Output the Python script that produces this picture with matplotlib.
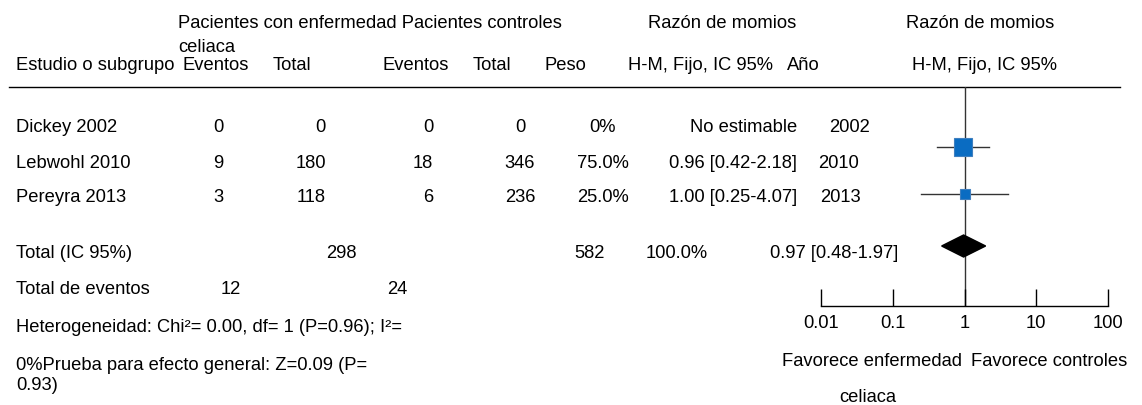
import numpy as np
import matplotlib.pyplot as plt
from matplotlib.ticker import NullLocator, FixedLocator, FixedFormatter

plt.rcParams['font.family'] = ['Liberation Sans', 'DejaVu Sans']

# datos de los estudios
studies = ['Dickey 2002', 'Lebwohl 2010', 'Pereyra 2013']
ev_cel = [0, 9, 3]
tot_cel = [0, 180, 118]
ev_ctl = [0, 18, 6]
tot_ctl = [0, 346, 236]
peso = [0.0, 75.0, 25.0]
or_est = [np.nan, 0.96, 1.00]
ci_lo = [np.nan, 0.42, 0.25]
ci_hi = [np.nan, 2.18, 4.07]
years = [2002, 2010, 2013]

# totales
tot_n_cel = 298
tot_n_ctl = 582
tot_ev_cel = 12
tot_ev_ctl = 24
or_total = 0.97
or_total_lo = 0.48
or_total_hi = 1.97

ticks = [0.01, 0.1, 1, 10, 100]
tick_labels = ['0.01', '0.1', '1', '10', '100']

W, H = 1142, 405
fs = 13.2

fig = plt.figure(figsize=(W / 100, H / 100), dpi=100)
ax = fig.add_axes([0, 0, 1, 1])
ax.set_xlim(0, W)
ax.set_ylim(H, 0)
ax.axis('off')


def txt(x, y, s, ha='left'):
    ax.text(x, y, s, ha=ha, va='center', fontsize=fs, color='black')


# cabecera
txt(178, 23, 'Pacientes con enfermedad Pacientes controles')
txt(178, 47, 'celiaca')
txt(722, 23, 'Razón de momios', ha='center')
txt(980, 23, 'Razón de momios', ha='center')
hy = 65
txt(16, hy, 'Estudio o subgrupo')
txt(182, hy, 'Eventos')
txt(273, hy, 'Total')
txt(382, hy, 'Eventos')
txt(473, hy, 'Total')
txt(544, hy, 'Peso')
txt(628, hy, 'H-M, Fijo, IC 95%')
txt(787, hy, 'Año')
txt(984, hy, 'H-M, Fijo, IC 95%', ha='center')
ax.plot([9, 1120], [87, 87], color='black', lw=1)

# filas de estudios
rows = [128, 163, 198]
year_x = [829, 818, 820]
for i, y in enumerate(rows):
    txt(16, y, studies[i])
    txt(218, y, str(ev_cel[i]), ha='center')
    txt(326, y, str(tot_cel[i]), ha='right')
    txt(433, y, str(ev_ctl[i]), ha='right')
    txt(520, y, str(tot_ctl[i]), ha='center')
    p = '0%' if peso[i] == 0 else f'{peso[i]:.1f}%'
    txt(603, y, p, ha='center')
    if np.isnan(or_est[i]):
        s = 'No estimable'
    else:
        s = f'{or_est[i]:.2f} [{ci_lo[i]:.2f}-{ci_hi[i]:.2f}]'
    txt(797, y, s, ha='right')
    txt(year_x[i], y, str(years[i]))

# total
ty = 253
txt(16, ty, 'Total (IC 95%)')
txt(341, ty, str(tot_n_cel), ha='center')
txt(590, ty, str(tot_n_ctl), ha='center')
txt(677, ty, f'{sum(peso):.1f}%', ha='center')
txt(770, ty, f'{or_total:.2f} [{or_total_lo:.2f}-{or_total_hi:.2f}]')

txt(16, 290, 'Total de eventos')
txt(231, 290, str(tot_ev_cel), ha='center')
txt(397, 290, str(tot_ev_ctl), ha='center')
txt(16, 328, 'Heterogeneidad: Chi²= 0.00, df= 1 (P=0.96); I²=')
txt(16, 365, '0%Prueba para efecto general: Z=0.09 (P=')
txt(16, 385, '0.93)')

txt(962, 362, 'Favorece enfermedad', ha='right')
txt(868, 398, 'celiaca', ha='center')
txt(971, 362, 'Favorece controles')

# grafico de bosque
x0, x1 = 821, 1108
ytop, ybot = 87, 306
fx = fig.add_axes([x0 / W, (H - ybot) / H, (x1 - x0) / W, (ybot - ytop) / H])
fx.set_xscale('log')
fx.set_xlim(ticks[0], ticks[-1])
fx.set_ylim(ybot, ytop)
fx.patch.set_alpha(0)
for side in ['top', 'left', 'right']:
    fx.spines[side].set_visible(False)
fx.spines['bottom'].set_linewidth(1)
fx.yaxis.set_major_locator(NullLocator())
fx.xaxis.set_major_locator(FixedLocator(ticks))
fx.xaxis.set_major_formatter(FixedFormatter(tick_labels))
fx.xaxis.set_minor_locator(NullLocator())
fx.tick_params(axis='x', direction='in', length=12.2, width=1, pad=6.5,
               labelsize=fs)

fx.axvline(1, color='#333333', lw=1, zorder=1)

mark_rows = [None, 147, 194]
for i in range(len(studies)):
    if np.isnan(or_est[i]):
        continue
    y = mark_rows[i]
    fx.plot([ci_lo[i], ci_hi[i]], [y, y], color='#333333', lw=1, zorder=2)
    fx.plot(or_est[i], y, marker='s', ms=1.5 * np.sqrt(peso[i]),
            color='#0a6cc2', mec='#3f7fbf', mew=0.8, zorder=3)

dy = 246
fx.fill([or_total_lo, or_total, or_total_hi, or_total],
        [dy, dy - 11, dy, dy + 11], color='black', zorder=3)

fig.savefig('out.png', dpi=100)
